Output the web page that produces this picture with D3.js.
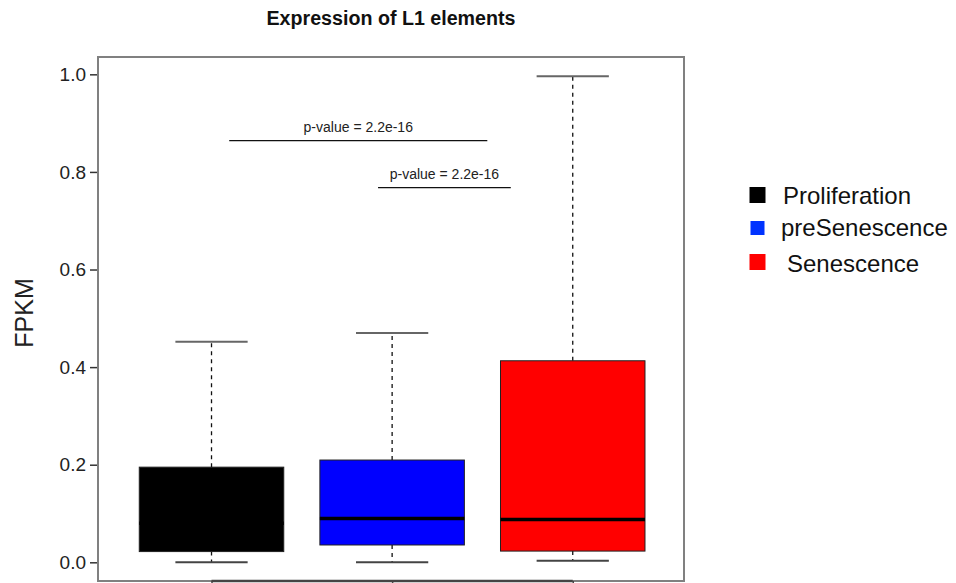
<!DOCTYPE html>
<html>
<head>
<meta charset="utf-8">
<script src="https://cdnjs.cloudflare.com/ajax/libs/d3/7.8.5/d3.min.js"></script>
<style>
  html, body { margin: 0; padding: 0; background: #ffffff; }
  svg { display: block; font-family: "Liberation Sans", Arial, Helvetica, sans-serif; }
</style>
</head>
<body>
<svg id="chart" width="956" height="583"></svg>
<script>
// Boxplot summary statistics per condition (FPKM)
const groups       = ["Proliferation", "preSenescence", "Senescence"];
const groupColors  = ["#000000", "#0000ff", "#ff0000"];
const whiskerLow   = [0.000, 0.000, 0.003];
const quartile1    = [0.022, 0.0355, 0.023];
const medians      = [0.080, 0.090, 0.0875];
const quartile3    = [0.195, 0.2096, 0.413];
const whiskerHigh  = [0.452, 0.470, 0.996];

// y-axis ticks
const yTicks = [0.0, 0.2, 0.4, 0.6, 0.8, 1.0];

// significance brackets (x in group-position units, y in FPKM)
const pLabels = ["p-value = 2.2e-16", "p-value = 2.2e-16"];
const pX1     = [1.098, 1.922];
const pX2     = [2.527, 2.657];
const pY      = [0.864, 0.768];

const title  = "Expression of L1 elements";
const yTitle = "FPKM";

const svg = d3.select("#chart");

const plot = { left: 98, right: 684, top: 57, bottom: 581 };

const x = d3.scaleLinear().domain([0.3715, 3.616]).range([plot.left, plot.right]);
const y = d3.scaleLinear().domain([-0.0383, 1.0355]).range([plot.bottom, plot.top]);

const boxHalf = 0.4;   // half box width in position units
const capHalf = 0.2;   // half whisker-cap width

// title
svg.append("text")
  .attr("x", 391).attr("y", 25)
  .attr("text-anchor", "middle")
  .attr("font-weight", "bold")
  .attr("font-size", 20)
  .attr("textLength", 249)
  .attr("lengthAdjust", "spacingAndGlyphs")
  .attr("fill", "#111")
  .text(title);

// y axis
const yAxis = svg.append("g")
  .attr("transform", `translate(${plot.left},0)`)
  .call(d3.axisLeft(y).tickValues(yTicks).tickFormat(d3.format(".1f")).tickSize(8).tickPadding(4));
yAxis.select(".domain").remove();
yAxis.selectAll(".tick line").attr("stroke", "#333").attr("stroke-width", 1.5);
yAxis.selectAll(".tick text")
  .attr("font-size", 19)
  .attr("fill", "#222")
  .attr("font-family", "'Liberation Sans', Arial, sans-serif");

// y axis title
svg.append("text")
  .attr("transform", `translate(33,313) rotate(-90)`)
  .attr("text-anchor", "middle")
  .attr("font-size", 25)
  .attr("fill", "#222")
  .text(yTitle);

// boxes
const data = groups.map((g, i) => ({
  name: g, pos: i + 1, color: groupColors[i],
  lo: whiskerLow[i], q1: quartile1[i], med: medians[i], q3: quartile3[i], hi: whiskerHigh[i]
}));

const g = svg.append("g");
const box = g.selectAll(".box").data(data).join("g").attr("class", "box");

// whiskers (dashed)
box.append("line")
  .attr("x1", d => x(d.pos)).attr("x2", d => x(d.pos))
  .attr("y1", d => y(d.q3)).attr("y2", d => y(d.hi))
  .attr("stroke", "#111").attr("stroke-width", 1.3).attr("stroke-dasharray", "4,4");
box.append("line")
  .attr("x1", d => x(d.pos)).attr("x2", d => x(d.pos))
  .attr("y1", d => y(d.q1)).attr("y2", d => y(d.lo))
  .attr("stroke", "#111").attr("stroke-width", 1.3).attr("stroke-dasharray", "4,4");

// whisker caps
box.append("line")
  .attr("x1", d => x(d.pos - capHalf)).attr("x2", d => x(d.pos + capHalf))
  .attr("y1", d => y(d.hi)).attr("y2", d => y(d.hi))
  .attr("stroke", "#666").attr("stroke-width", 2);
box.append("line")
  .attr("x1", d => x(d.pos - capHalf)).attr("x2", d => x(d.pos + capHalf))
  .attr("y1", d => y(d.lo)).attr("y2", d => y(d.lo))
  .attr("stroke", "#444").attr("stroke-width", 2);

// interquartile box
box.append("rect")
  .attr("x", d => x(d.pos - boxHalf))
  .attr("width", d => x(d.pos + boxHalf) - x(d.pos - boxHalf))
  .attr("y", d => y(d.q3))
  .attr("height", d => y(d.q1) - y(d.q3))
  .attr("fill", d => d.color)
  .attr("stroke", "#222").attr("stroke-width", 1);

// median
box.append("line")
  .attr("x1", d => x(d.pos - boxHalf)).attr("x2", d => x(d.pos + boxHalf))
  .attr("y1", d => y(d.med)).attr("y2", d => y(d.med))
  .attr("stroke", "#000").attr("stroke-width", 3.5);

// plot frame
svg.append("rect")
  .attr("x", plot.left).attr("y", plot.top)
  .attr("width", plot.right - plot.left).attr("height", plot.bottom - plot.top)
  .attr("fill", "none").attr("stroke", "#808080").attr("stroke-width", 2);

// x axis line (no labels)
const xAxis = svg.append("g")
  .attr("transform", `translate(0,${plot.bottom})`)
  .call(d3.axisBottom(x).tickValues([1, 2, 3]).tickFormat("").tickSize(8).tickSizeOuter(0));
xAxis.select(".domain")
  .attr("d", `M${x(1)},0H${x(3)}`)
  .attr("stroke", "#444").attr("stroke-width", 2.5);
xAxis.selectAll(".tick line").attr("stroke", "#444").attr("stroke-width", 1.5);

// significance brackets
const br = svg.append("g").selectAll("g").data(pLabels.map((l, i) => ({
  label: l, x1: pX1[i], x2: pX2[i], y: pY[i]
}))).join("g");
br.append("line")
  .attr("x1", d => x(d.x1)).attr("x2", d => x(d.x2))
  .attr("y1", d => y(d.y)).attr("y2", d => y(d.y))
  .attr("stroke", "#111").attr("stroke-width", 1.3);
br.append("text")
  .attr("x", d => (x(d.x1) + x(d.x2)) / 2)
  .attr("y", d => y(d.y) - 9)
  .attr("text-anchor", "middle")
  .attr("font-size", 14)
  .attr("fill", "#222")
  .text(d => d.label);

// legend
const legendY = [195, 228, 262];
const legendSize = [16, 14, 16];
const legendTextX = [783, 781, 787];
const legendBaseline = [203.5, 235.5, 271.5];
const legend = svg.append("g").selectAll("g").data(data).join("g");
legend.append("rect")
  .attr("x", (d, i) => 757.5 - legendSize[i] / 2)
  .attr("y", (d, i) => legendY[i] - legendSize[i] / 2)
  .attr("width", (d, i) => legendSize[i])
  .attr("height", (d, i) => legendSize[i])
  .attr("fill", (d, i) => i === 1 ? "#0033ff" : d.color);
legend.append("text")
  .attr("x", (d, i) => legendTextX[i])
  .attr("y", (d, i) => legendBaseline[i])
  .attr("font-size", 24)
  .attr("fill", "#111")
  .text(d => d.name);
</script>
</body>
</html>
